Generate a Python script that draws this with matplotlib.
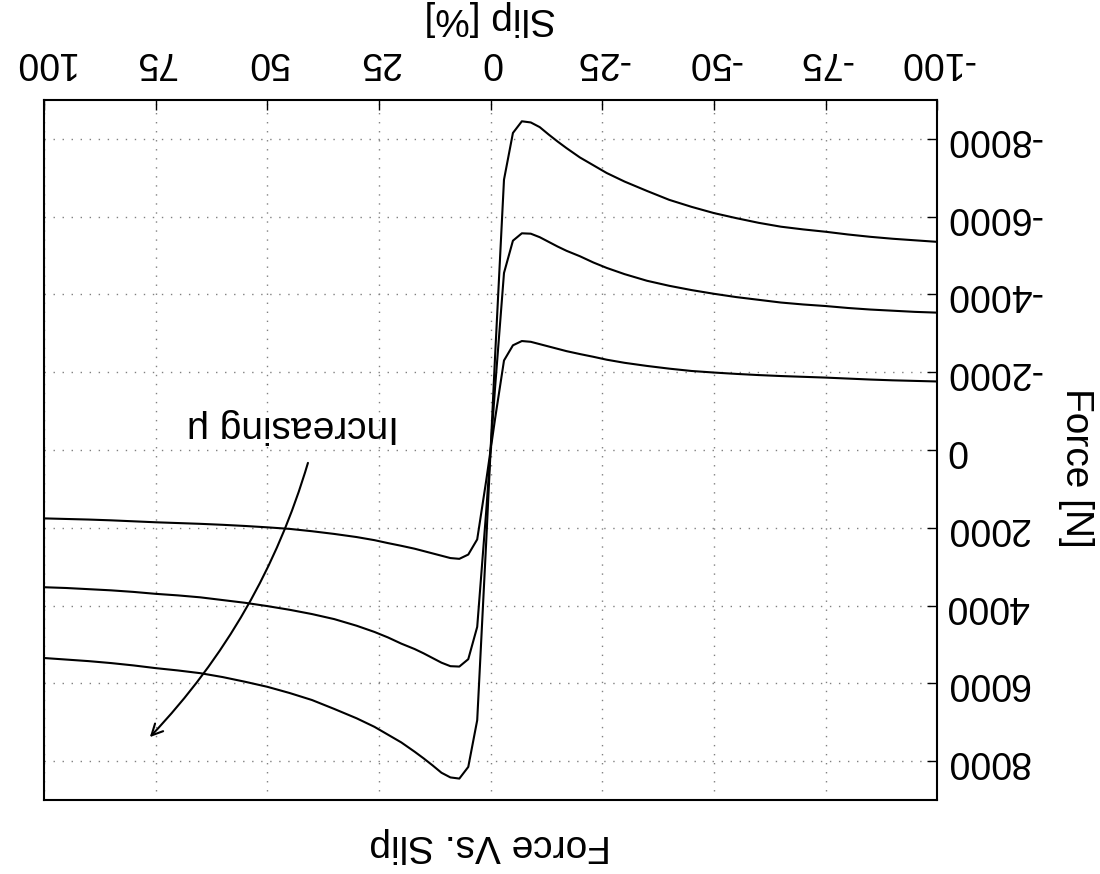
import matplotlib
matplotlib.use("Agg")
from matplotlib import pyplot as plt

plt.rcParams['font.family'] = ['Liberation Sans', 'DejaVu Sans']
plt.rcParams['axes.unicode_minus'] = False

# slip values [%] and force values [N] for three friction levels
slip = [-100, -95, -90, -85, -80, -75, -70, -65, -60, -55, -50, -45, -40, -35,
        -30, -26, -23, -20, -17, -15, -13, -11, -9, -7, -5, -3, -1,
        1, 3, 5, 7, 9, 11, 13, 15, 17, 20, 23, 26, 30,
        35, 40, 45, 50, 55, 60, 65, 70, 75, 80, 85, 90, 95, 100]

force_high = [-5350, -5390, -5430, -5480, -5540, -5610, -5670, -5740, -5840, -5960,
              -6090, -6250, -6430, -6660, -6900, -7120, -7320, -7520, -7760, -7930,
              -8110, -8300, -8420, -8450, -8150, -6950, -2400,
              2400, 6950, 8150, 8450, 8420, 8300, 8110, 7930, 7760, 7520, 7320, 7120,
              6900, 6660, 6430, 6250, 6090, 5960, 5840, 5740, 5670, 5610, 5540, 5480,
              5430, 5390, 5350]

force_mid = [-3530, -3550, -3580, -3610, -3650, -3700, -3740, -3790, -3860, -3930,
             -4015, -4110, -4220, -4350, -4520, -4680, -4820, -4980, -5120, -5230,
             -5350, -5470, -5560, -5570, -5380, -4550, -1600,
             1600, 4550, 5380, 5570, 5560, 5470, 5350, 5230, 5120, 4980, 4820, 4680,
             4520, 4350, 4220, 4110, 4015, 3930, 3860, 3790, 3740, 3700, 3650, 3610,
             3580, 3550, 3530]

force_low = [-1760, -1775, -1790, -1810, -1835, -1860, -1880, -1900, -1925, -1955,
             -1990, -2030, -2090, -2160, -2240, -2320, -2395, -2465, -2540, -2600,
             -2660, -2720, -2780, -2800, -2690, -2300, -800,
             800, 2300, 2690, 2800, 2780, 2720, 2660, 2600, 2540, 2465, 2395, 2320,
             2240, 2160, 2090, 2030, 1990, 1955, 1925, 1900, 1880, 1860, 1835, 1810,
             1790, 1775, 1760]

x_ticks = [-100, -75, -50, -25, 0, 25, 50, 75, 100]
y_ticks = [-8000, -6000, -4000, -2000, 0, 2000, 4000, 6000, 8000]

fig = plt.figure(figsize=(11, 8.74), dpi=100)
ax = fig.add_axes([0.04, 0.0847, 0.812, 0.801])

for f in (force_low, force_mid, force_high):
    ax.plot(slip, f, color='black', lw=1.5)

# the whole chart is shown turned upside down
ax.set_xlim(100, -100)
ax.set_ylim(9000, -9000)
ax.set_xticks(x_ticks)
ax.set_yticks(y_ticks)
ax.xaxis.tick_top()
ax.yaxis.tick_right()
ax.tick_params(axis='both', direction='in', length=7.5, width=1, labelsize=27,
               colors='black')
ax.tick_params(axis='x', labelrotation=180, pad=14)
ax.tick_params(axis='y', labelrotation=180, pad=6)
for lab in ax.get_yticklabels():
    lab.set_verticalalignment('center')

ax.grid(True, color='#808080', lw=1, linestyle=(0, (1, 5.5)))
for s in ax.spines.values():
    s.set_linewidth(1.5)

ax.xaxis.set_label_position('top')
ax.set_xlabel('Slip [%]', fontsize=28, rotation=180, va='center', ha='center')
ax.xaxis.set_label_coords(0.5, 1.117)

ax.yaxis.set_label_position('right')
ax.set_ylabel('Force [N]', fontsize=28, rotation=270, va='center', ha='center')
ax.yaxis.set_label_coords(1.155, 0.474)

ax.text(0.5, -0.064, 'Force Vs. Slip', transform=ax.transAxes, fontsize=28,
        rotation=180, ha='center', va='center')

ax.annotate('', xy=(76.3, 7384), xytext=(40.9, 333),
            arrowprops=dict(arrowstyle='->,head_length=0.8,head_width=0.4',
                            connectionstyle='arc3,rad=-0.12', lw=1.5,
                            color='black', shrinkA=0, shrinkB=0))
ax.text(44.3, -620, 'Increasing μ', fontsize=28, rotation=180,
        ha='center', va='center')

fig.savefig('out.png', dpi=100)
